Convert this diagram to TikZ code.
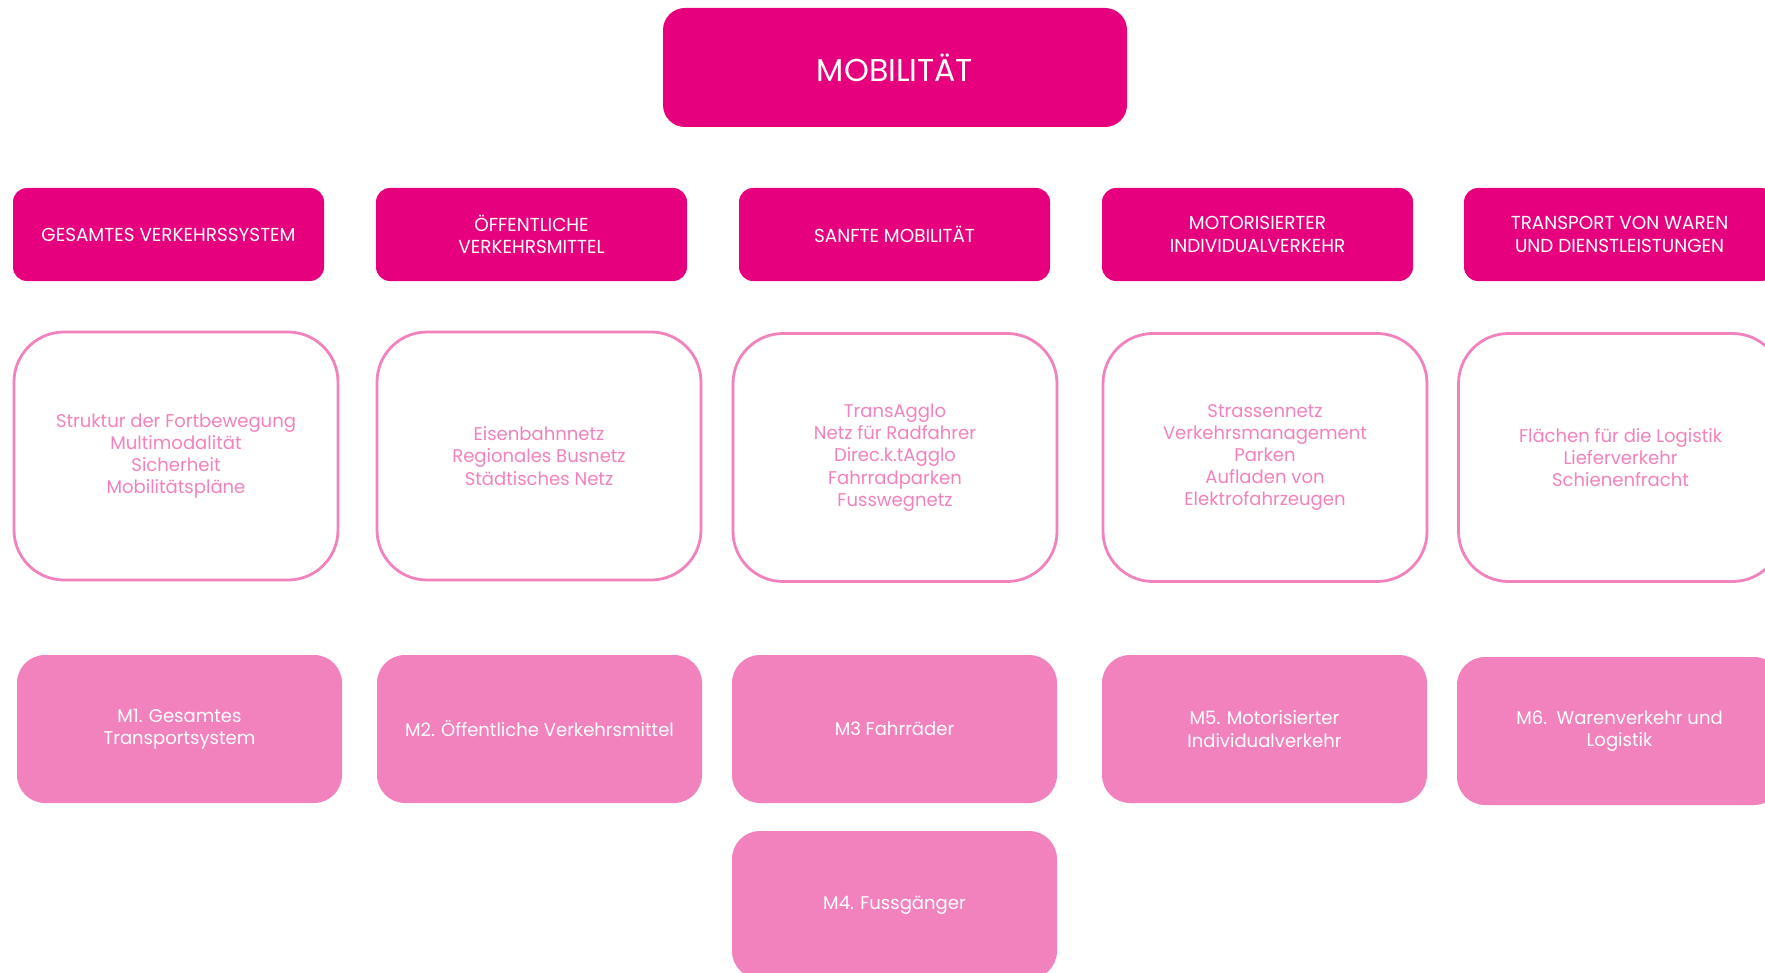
\documentclass[tikz,border=0pt]{standalone}
\usepackage{fontspec}
\setmainfont{Poppins}
\newfontfamily\narrowfont{Poppins}[FakeStretch=0.98]
\usepackage{xcolor}

\definecolor{mobmagenta}{HTML}{E6007E}
\definecolor{mobpink}{HTML}{F282BE}

\tikzset{
  titlebox/.style={fill=mobmagenta, rounded corners=11pt, text=white,
    minimum width=232pt, minimum height=59.5pt, font=\fontsize{15.8}{18}\selectfont},
  headbox/.style={fill=mobmagenta, rounded corners=7pt, text=white, align=center,
    minimum width=155.5pt, minimum height=46.5pt, font=\narrowfont\fontsize{9.4}{11.3}\selectfont},
  listbox/.style={draw=mobpink, line width=1.4pt, fill=white, rounded corners=25pt,
    text=mobpink, align=center, minimum width=162pt, minimum height=124pt,
    font=\narrowfont\fontsize{9.2}{11.1}\selectfont},
  mbox/.style={fill=mobpink, rounded corners=14pt, text=white, align=center,
    minimum width=162.5pt, minimum height=74pt, font=\narrowfont\fontsize{9.2}{11.2}\selectfont}
}

\begin{document}
\begin{tikzpicture}[x=0.5pt, y=-0.5pt]
  \useasboundingbox (0,0) rectangle (1765,973);
  \clip (0,0) rectangle (1765,973);

  %% title
  \node[titlebox] (mob) at (895,67.5) {MOBILITÄT};

  %% themes
  \node[headbox] (h1) at (168.5,234.5) {GESAMTES VERKEHRSSYSTEM};
  \node[headbox] (h2) at (531.5,234.5) {ÖFFENTLICHE\\VERKEHRSMITTEL};
  \node[headbox] (h3) at (894.5,234.5) {SANFTE MOBILITÄT};
  \node[headbox] (h4) at (1257.5,234.5) {MOTORISIERTER\\INDIVIDUALVERKEHR};
  \node[headbox] (h5) at (1619.5,234.5) {TRANSPORT VON WAREN\\UND DIENSTLEISTUNGEN};

  %% contents
  \node[listbox] (l1) at (176,456) {Struktur der Fortbewegung\\Multimodalität\\Sicherheit\\Mobilitätspläne};
  \node[listbox] (l2) at (539,456) {Eisenbahnnetz\\Regionales Busnetz\\Städtisches Netz};
  \node[listbox] (l3) at (895,457.5) {TransAgglo\\Netz für Radfahrer\\Direc.k.tAgglo\\Fahrradparken\\Fusswegnetz};
  \node[listbox] (l4) at (1265,457.5) {Strassennetz\\Verkehrsmanagement\\Parken\\Aufladen von\\Elektrofahrzeugen};
  \node[listbox] (l5) at (1620.5,457.5) {Flächen für die Logistik\\Lieferverkehr\\Schienenfracht};

  %% measures
  \node[mbox] (m1) at (179.5,729) {M1. Gesamtes\\Transportsystem};
  \node[mbox] (m2) at (539.5,729) {M2. Öffentliche Verkehrsmittel};
  \node[mbox] (m3) at (894.5,729) {M3 Fahrräder};
  \node[mbox] (m5) at (1264.5,729) {M5. Motorisierter\\Individualverkehr};
  \node[mbox] (m6) at (1619.5,731) {M6.\ \ Warenverkehr und\\Logistik};
  \node[mbox] (m4) at (894.5,905) {M4. Fussgänger};
\end{tikzpicture}
\end{document}
